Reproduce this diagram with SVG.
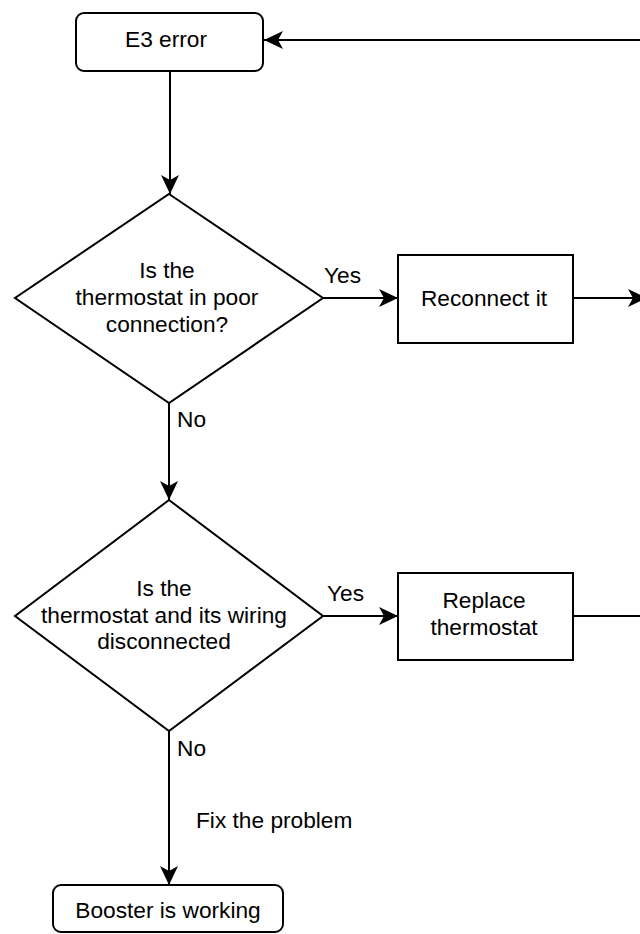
<svg xmlns="http://www.w3.org/2000/svg" width="640" height="934" viewBox="0 0 640 934">
<style>
.n{fill:#fff;stroke:#000;stroke-width:2}
.c{fill:none;stroke:#000;stroke-width:2}
text{font-family:"Liberation Sans",Arial,sans-serif;font-size:22.7px;fill:#000}
.m{text-anchor:middle}
</style>
<defs>
<marker id="ah" viewBox="0 0 20 20" refX="20" refY="10" markerWidth="20" markerHeight="20" markerUnits="userSpaceOnUse" orient="auto">
<path d="M20,10 L1,1 L6,10 L1,19 Z" fill="#000"/>
</marker>
</defs>
<g id="connectors">
<path class="c" d="M645,40 L264,40" marker-end="url(#ah)"/>
<path class="c" d="M170,71 L170,194" marker-end="url(#ah)"/>
<path class="c" d="M323,298 L398,298" marker-end="url(#ah)"/>
<path class="c" d="M573,298 L647,298" marker-end="url(#ah)"/>
<path class="c" d="M169,403 L169,500" marker-end="url(#ah)"/>
<path class="c" d="M323,616 L398,616" marker-end="url(#ah)"/>
<path class="c" d="M573,616 L645,616"/>
<path class="c" d="M169,731 L169,885" marker-end="url(#ah)"/>
<text x="324" y="283">Yes</text>
<text x="177" y="427">No</text>
<text x="327" y="601">Yes</text>
<text x="177" y="756">No</text>
<text x="196" y="828">Fix the problem</text>
</g>
<g id="e3">
<rect class="n" x="76" y="13" width="187" height="58" rx="8"/>
<text class="m" x="166" y="47">E3 error</text>
</g>
<g id="q1">
<polygon class="n" points="169,194 323,298 169,403 15,298"/>
<text class="m" x="167" y="278">Is the</text>
<text class="m" x="167" y="305">thermostat in poor</text>
<text class="m" x="167" y="332">connection?</text>
</g>
<g id="reconnect">
<rect class="n" x="398" y="255" width="175" height="88"/>
<text class="m" x="484" y="306">Reconnect it</text>
</g>
<g id="q2">
<polygon class="n" points="169,500 323,616 169,731 15,616"/>
<text class="m" x="164" y="596">Is the</text>
<text class="m" x="164" y="623">thermostat and its wiring</text>
<text class="m" x="164" y="649">disconnected</text>
</g>
<g id="replace">
<rect class="n" x="398" y="573" width="175" height="87"/>
<text class="m" x="484" y="608">Replace</text>
<text class="m" x="484" y="635">thermostat</text>
</g>
<g id="booster">
<rect class="n" x="53" y="885" width="230" height="47" rx="8"/>
<text class="m" x="168" y="918">Booster is working</text>
</g>
</svg>
